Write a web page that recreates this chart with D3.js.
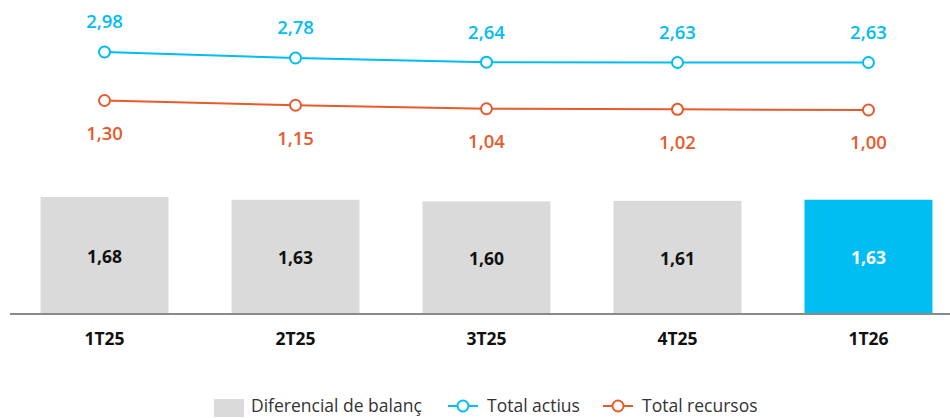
<!DOCTYPE html>
<meta charset="utf-8">
<style>
  body { margin: 0; background: #fff; }
  text { font-family: "Open Sans", sans-serif; }
</style>
<svg width="950" height="418"></svg>
<script src="https://d3js.org/d3.v7.min.js"></script>
<script>
  var categories = ["1T25", "2T25", "3T25", "4T25", "1T26"];
  var diferencial = [1.68, 1.63, 1.60, 1.61, 1.63];
  var totalActius = [2.98, 2.78, 2.64, 2.63, 2.63];
  var totalRecursos = [1.30, 1.15, 1.04, 1.02, 1.00];

  var blue = "#00bdf2",
    orange = "#e85a2c",
    grey = "#dadada";

  var fmt = function(v) { return v.toFixed(2).replace(".", ","); };

  var svg = d3.select("svg");

  var x = d3.scaleBand().domain(categories).range([10, 963]).paddingInner(0.33).paddingOuter(0.16);

  // bars sit on the baseline at y=314
  var yBar = d3.scaleLinear().domain([-0.45, 1.68]).range([314, 197]);
  // each line has its own band at the top
  var yActius = d3.scaleLinear().domain([2.63, 2.98]).range([62.5, 52]);
  var yRecursos = d3.scaleLinear().domain([1.00, 1.30]).range([110, 100.5]);

  var cx = function(d, i) { return x(categories[i]) + x.bandwidth() / 2; };

  // bars
  svg.selectAll(".bar")
    .data(diferencial)
    .enter().append("rect")
    .attr("class", "bar")
    .attr("x", function(d, i) { return x(categories[i]); })
    .attr("y", function(d) { return yBar(d); })
    .attr("width", x.bandwidth())
    .attr("height", function(d) { return yBar.range()[0] - yBar(d); })
    .attr("fill", function(d, i) { return i === categories.length - 1 ? blue : grey; });

  svg.selectAll(".bar-label")
    .data(diferencial)
    .enter().append("text")
    .attr("x", cx)
    .attr("y", function(d) { return (yBar(d) + yBar.range()[0]) / 2 + 1.5; })
    .attr("dy", "0.35em")
    .attr("text-anchor", "middle")
    .attr("font-size", 17.5)
    .attr("font-weight", 700)
    .attr("fill", function(d, i) { return i === categories.length - 1 ? "#fff" : "#111"; })
    .text(fmt);

  // x axis
  var xAxis = d3.axisBottom(x).tickSize(0).tickPadding(19);
  var ax = svg.append("g")
    .attr("transform", "translate(0,314)")
    .call(xAxis);
  ax.select(".domain").attr("d", "M10,0H950").attr("stroke", "#8a8a8a").attr("stroke-width", 2);
  ax.selectAll("text")
    .attr("font-family", "Open Sans, sans-serif")
    .attr("font-size", 17.5)
    .attr("font-weight", 700)
    .attr("fill", "#111");

  // lines
  function drawSeries(values, yScale, color, labelOffset) {
    var line = d3.line()
      .x(function(d, i) { return cx(d, i); })
      .y(function(d) { return yScale(d); });
    svg.append("path")
      .datum(values)
      .attr("d", line)
      .attr("fill", "none")
      .attr("stroke", color)
      .attr("stroke-width", 2);
    svg.selectAll(null)
      .data(values)
      .enter().append("circle")
      .attr("cx", cx)
      .attr("cy", function(d) { return yScale(d); })
      .attr("r", 5.5)
      .attr("fill", "#fff")
      .attr("stroke", color)
      .attr("stroke-width", 2);
    svg.selectAll(null)
      .data(values)
      .enter().append("text")
      .attr("x", cx)
      .attr("y", function(d) { return yScale(d) + labelOffset; })
      .attr("dy", "0.35em")
      .attr("text-anchor", "middle")
      .attr("font-size", 18.5)
      .attr("font-weight", 600)
      .attr("fill", color)
      .text(fmt);
  }
  drawSeries(totalActius, yActius, blue, -30);
  drawSeries(totalRecursos, yRecursos, orange, 33);

  // legend
  var lg = svg.append("g").attr("transform", "translate(0,406)");
  lg.append("rect").attr("x", 214).attr("y", -7).attr("width", 30).attr("height", 18).attr("fill", grey);
  lg.append("text").attr("x", 251).attr("dy", "0.35em").attr("font-size", 17.5).attr("fill", "#333").text("Diferencial de balanç");

  [[448, blue, "Total actius"], [603, orange, "Total recursos"]].forEach(function(e) {
    lg.append("line").attr("x1", e[0]).attr("x2", e[0] + 30).attr("stroke", e[1]).attr("stroke-width", 2);
    lg.append("circle").attr("cx", e[0] + 15).attr("r", 5.5).attr("fill", "#fff").attr("stroke", e[1]).attr("stroke-width", 2);
    lg.append("text").attr("x", e[0] + 39).attr("dy", "0.35em").attr("font-size", 17.5).attr("fill", "#333").text(e[2]);
  });
</script>
